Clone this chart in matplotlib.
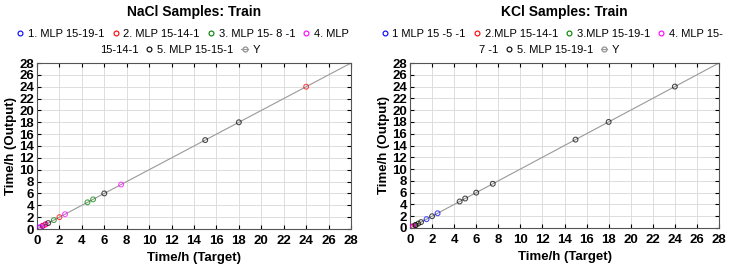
import numpy as np
import matplotlib.pyplot as plt
from matplotlib.lines import Line2D

plt.rcParams['font.family'] = ['Liberation Sans', 'DejaVu Sans']

# target times (h) used for training, output ~ target
nacl_t = {
    '1. MLP 15-19-1': [0.25, 0.5],
    '2. MLP 15-14-1': [0.5, 0.75, 2, 24],
    '3. MLP 15- 8 -1': [1.5, 4.5, 5],
    '4. MLP 15-14-1': [0.25, 0.75, 2.5, 7.5],
    '5. MLP 15-15-1': [1, 6, 15, 18],
}
nacl_o = {
    '1. MLP 15-19-1': [0.25, 0.5],
    '2. MLP 15-14-1': [0.55, 0.75, 2, 24],
    '3. MLP 15- 8 -1': [1.5, 4.5, 5],
    '4. MLP 15-14-1': [0.3, 0.8, 2.5, 7.5],
    '5. MLP 15-15-1': [1, 6, 15, 18],
}
kcl_t = {
    '1 MLP 15 -5 -1': [0.25, 1.5, 2.5],
    '2.MLP 15-14-1': [0.25, 0.5],
    '3.MLP 15-19-1': [0.5],
    '4. MLP 15-7 -1': [0.25],
    '5. MLP 15-19-1': [0.5, 0.75, 1, 2, 4.5, 5, 6, 7.5, 15, 18, 24],
}
kcl_o = {
    '1 MLP 15 -5 -1': [0.25, 1.5, 2.5],
    '2.MLP 15-14-1': [0.2, 0.45],
    '3.MLP 15-19-1': [0.5],
    '4. MLP 15-7 -1': [0.3],
    '5. MLP 15-19-1': [0.5, 0.75, 1, 2, 4.5, 5, 6, 7.5, 15, 18, 24],
}
colors = ['#0000ff', '#ff0000', '#008000', '#ff00ff', '#000000']

nacl_rows = (['1. MLP 15-19-1', '2. MLP 15-14-1', '3. MLP 15- 8 -1', '4. MLP'],
             ['15-14-1', '5. MLP 15-15-1', 'Y'])
kcl_rows = (['1 MLP 15 -5 -1', '2.MLP 15-14-1', '3.MLP 15-19-1', '4. MLP 15-'],
            ['7 -1', '5. MLP 15-19-1', 'Y'])

fig = plt.figure(figsize=(7.31, 2.69), dpi=100)
ax1 = fig.add_axes([37/731, 1-229/269, 314/731, 166/269])
ax2 = fig.add_axes([410/731, 1-228/269, 309/731, 165/269])


def draw(ax, tdict, odict, title, rows, legx):
    ax.plot([0, 28], [0, 28], color='#999999', lw=0.8, zorder=2)
    for (name, t), c in zip(tdict.items(), colors):
        ax.scatter(t, odict[name], s=12, facecolors='none', edgecolors=c,
                   linewidths=0.8, zorder=3, alpha=0.7)
    ax.set_xlim(0, 28)
    ax.set_ylim(0, 28)
    ax.set_xticks(np.arange(0, 29, 2))
    ax.set_yticks(np.arange(0, 29, 2))
    ax.grid(True, color='#dddddd', lw=0.7)
    ax.set_axisbelow(True)
    ax.tick_params(direction='in', length=3, top=True, right=True, pad=2,
                   labelsize=9.5)
    ax.tick_params(axis='x', pad=4)
    for lab in ax.get_xticklabels() + ax.get_yticklabels():
        lab.set_fontweight('bold')
    for s in ax.spines.values():
        s.set_color('#555555')
        s.set_linewidth(0.8)
    ax.set_xlabel('Time/h (Target)', fontsize=9.5, fontweight='bold', labelpad=4)
    ax.set_ylabel('Time/h (Output)', fontsize=9.5, fontweight='bold', labelpad=2)
    ax.set_title(title, fontsize=10, fontweight='bold', pad=34)

    # legend row 1: four series
    h1 = [Line2D([], [], ls='none', marker='o', ms=3.5, mfc='none', mec=c, mew=0.8)
          for c in colors[:4]]
    leg1 = ax.legend(h1, rows[0], ncol=4, loc='lower center',
                     bbox_to_anchor=(legx, 1.145), frameon=False, fontsize=8,
                     handlelength=0.6, handletextpad=0.4, columnspacing=0.7,
                     borderpad=0, borderaxespad=0)
    ax.add_artist(leg1)
    # legend row 2: wrapped label, series 5, line Y
    h2 = [Line2D([], [], ls='none', marker='none'),
          Line2D([], [], ls='none', marker='o', ms=3.5, mfc='none', mec=colors[4], mew=0.8),
          Line2D([], [], color='#999999', lw=0.8, marker='o', ms=3.5, mfc='none', mec='#999999')]
    ax.legend(h2, rows[1], ncol=3, loc='lower center',
              bbox_to_anchor=(legx - 0.028, 1.05), frameon=False, fontsize=8,
              handlelength=0.6, handletextpad=0.4, columnspacing=0.7,
              borderpad=0, borderaxespad=0)


draw(ax1, nacl_t, nacl_o, 'NaCl Samples: Train', nacl_rows, 0.465)
draw(ax2, kcl_t, kcl_o, 'KCl Samples: Train', kcl_rows, 0.46)

fig.savefig('out.png', dpi=100)
